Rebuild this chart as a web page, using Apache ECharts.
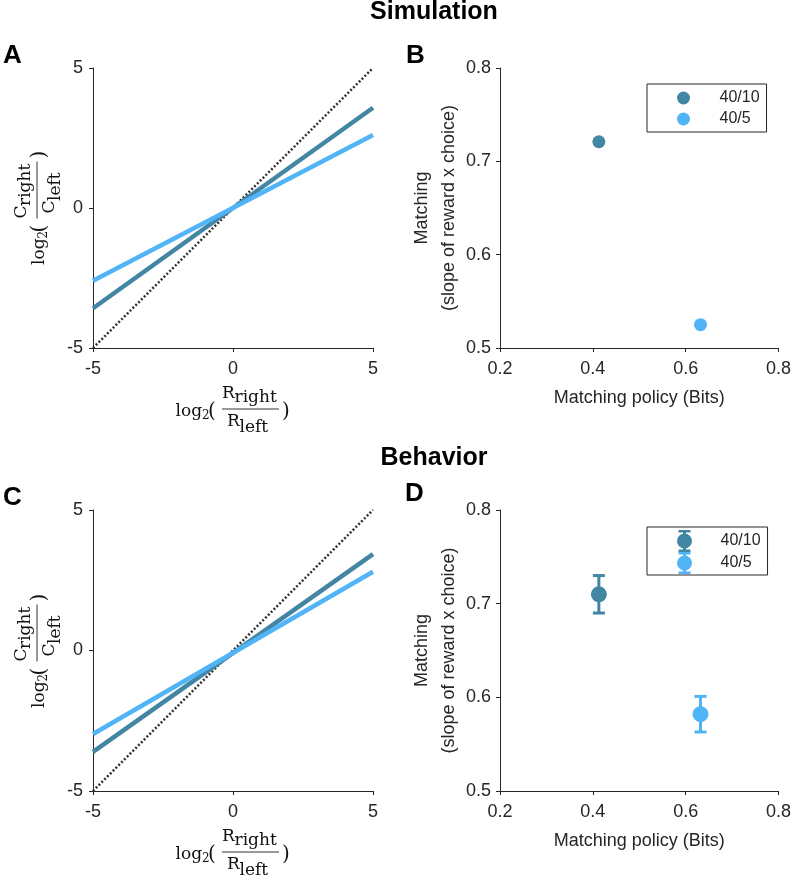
<!DOCTYPE html>
<html>
<head>
<meta charset="utf-8">
<script src="https://cdn.jsdelivr.net/npm/echarts@6/dist/echarts.min.js"></script>
<style>
html,body{margin:0;padding:0;background:#fff;}
#chart{width:794px;height:878px;}
</style>
</head>
<body>
<div id="chart"></div>
<script>
// ---------- data ----------
const xEnds = [-5, 5];                 // log2(R_right/R_left) end points
const diagY = [-5, 5];                 // identity (perfect matching)
const simDarkY = [-3.58, 3.58];        // Simulation 40/10
const simLightY = [-2.6, 2.61];        // Simulation 40/5
const behDarkY = [-3.61, 3.43];        // Behavior 40/10
const behLightY = [-2.97, 2.8];        // Behavior 40/5

const groupNames = ['40/10', '40/5'];
const simPolicy = [0.413, 0.632];      // Matching policy (Bits)
const simMatch = [0.721, 0.525];       // slope
const behPolicy = [0.413, 0.632];
const behMatch = [0.710, 0.582];
const behLow = [0.690, 0.563];
const behHigh = [0.730, 0.601];

const lineTicks = [-5, 0, 5];
const policyTicks = [0.2, 0.4, 0.6, 0.8];
const matchTicks = [0.5, 0.6, 0.7, 0.8];

// ---------- style ----------
const DARK = '#4386a4';
const LIGHT = '#51b4f6';
const AX = '#262626';
const SANS = 'Liberation Sans, Arial, sans-serif';
const SERIF = 'DejaVu Serif, serif';

const chart = echarts.init(document.getElementById('chart'), null, {renderer: 'canvas'});

function pairs(xs, ys) { return xs.map((x, i) => [x, ys[i]]); }

function axisBase(min, max, interval, margin) {
  return {
    min: min, max: max, interval: interval,
    axisLine: {show: true, onZero: false, lineStyle: {color: AX, width: 1}},
    axisTick: {show: true, inside: false, length: 4, lineStyle: {color: AX, width: 1}},
    axisLabel: {color: AX, fontSize: 18, fontFamily: SANS, margin: margin},
    splitLine: {show: false}
  };
}

function lineSeries(idx, ys, color, width, type) {
  return {
    type: 'line', xAxisIndex: idx, yAxisIndex: idx,
    data: pairs(xEnds, ys), symbol: 'none', silent: true,
    lineStyle: {color: color, width: width, type: type || 'solid', cap: 'butt'},
    itemStyle: {color: color}
  };
}

function mathLabel(letter, cx, cy, rot) {
  function t(text, x, y, size) {
    return {type: 'text', x: x, y: y,
      style: {text: text, font: size + 'px ' + SERIF, fill: '#111',
        textAlign: 'left', textVerticalAlign: 'middle', verticalAlign: 'middle'}};
  }
  return {
    type: 'group', x: cx, y: cy, rotation: rot, silent: true,
    children: [
      t('log', -75, 2.2, 17),
      t('2', -48.5, 7.2, 12),
      t('(', -42.5, 2.5, 20),
      t(letter, -28.5, -15.9, 17),
      t('right', -16, -11.9, 17),
      {type: 'line', shape: {x1: -28.5, y1: 0, x2: 28.5, y2: 0}, style: {stroke: '#333', lineWidth: 1}},
      t(letter, -23.5, 12.1, 17),
      t('left', -11, 18.1, 17),
      t(')', 31.5, 2.5, 20)
    ]
  };
}

function boldText(text, x, y, size, align) {
  return {type: 'text', x: x, y: y, silent: true,
    style: {text: text, font: 'bold ' + size + 'px ' + SANS, fill: '#000',
      textAlign: align || 'left', textVerticalAlign: 'middle', verticalAlign: 'middle'}};
}

function errorBar(color) {
  return function (params, api) {
    const x = api.value(0), lo = api.value(2), hi = api.value(3);
    const pt = api.coord([x, hi]);
    const pb = api.coord([x, lo]);
    const h = 6;
    const st = {stroke: color, lineWidth: 3};
    return {type: 'group', children: [
      {type: 'line', shape: {x1: pt[0], y1: pt[1], x2: pb[0], y2: pb[1]}, style: st},
      {type: 'line', shape: {x1: pt[0] - h, y1: pt[1], x2: pt[0] + h, y2: pt[1]}, style: st},
      {type: 'line', shape: {x1: pb[0] - h, y1: pb[1], x2: pb[0] + h, y2: pb[1]}, style: st}
    ]};
  };
}

const ebIcon = 'path://M2,0 L14,0 L14,2.5 L9.5,2.5 L9.5,6 L6.5,6 L6.5,2.5 L2,2.5 Z ' +
  'M6.5,16 L9.5,16 L9.5,19.5 L14,19.5 L14,22 L2,22 L2,19.5 L6.5,19.5 Z ' +
  'M0.5,11 A7.5,7.5 0 1,1 15.5,11 A7.5,7.5 0 1,1 0.5,11 Z';

const yName = 'Matching\n(slope of reward x choice)';
const xName = 'Matching policy (Bits)';

function scatterAxisX() {
  return Object.assign(axisBase(0.2, 0.8, 0.2, 12), {
    name: xName, nameLocation: 'middle', nameGap: 41,
    nameTextStyle: {color: AX, fontSize: 18, fontFamily: SANS}
  });
}
function scatterAxisY() {
  return Object.assign(axisBase(0.5, 0.8, 0.1, 9), {
    name: yName, nameLocation: 'middle', nameGap: 33, nameRotate: 90,
    nameTextStyle: {color: AX, fontSize: 18, fontFamily: SANS, lineHeight: 27}
  });
}

const legendCommon = {
  orient: 'vertical', left: 647, itemWidth: 62,
  borderColor: AX, borderWidth: 1, borderRadius: 0, selectedMode: false,
  textStyle: {color: AX, fontSize: 16, fontFamily: SANS, lineHeight: 16}
};

const option = {
  animation: false,
  backgroundColor: '#fff',
  grid: [
    {left: 93, top: 68, width: 280, height: 280},
    {left: 500, top: 68, width: 281, height: 280},
    {left: 93, top: 510, width: 280, height: 281},
    {left: 500, top: 510, width: 281, height: 281}
  ],
  xAxis: [
    Object.assign(axisBase(-5, 5, 5, 12), {gridIndex: 0}),
    Object.assign(scatterAxisX(), {gridIndex: 1}),
    Object.assign(axisBase(-5, 5, 5, 12), {gridIndex: 2}),
    Object.assign(scatterAxisX(), {gridIndex: 3})
  ],
  yAxis: [
    Object.assign(axisBase(-5, 5, 5, 10), {gridIndex: 0}),
    Object.assign(scatterAxisY(), {gridIndex: 1}),
    Object.assign(axisBase(-5, 5, 5, 10), {gridIndex: 2}),
    Object.assign(scatterAxisY(), {gridIndex: 3})
  ],
  legend: [
    Object.assign({}, legendCommon, {
      top: 84, itemHeight: 13, itemGap: 5, padding: [6, 7, 5, 30],
      data: groupNames.map(n => ({name: n, icon: 'circle'}))
    }),
    Object.assign({}, legendCommon, {
      top: 527, itemHeight: 22, itemGap: 0, padding: [3, 7, 1, 30],
      data: groupNames.map(n => ({name: n, icon: ebIcon}))
    })
  ],
  series: [
    lineSeries(0, diagY, '#333', 2.5, [2, 2]),
    lineSeries(0, simDarkY, DARK, 4.5),
    lineSeries(0, simLightY, LIGHT, 4.5),
    lineSeries(2, diagY, '#333', 2.5, [2, 2]),
    lineSeries(2, behDarkY, DARK, 4.5),
    lineSeries(2, behLightY, LIGHT, 4.5),
    {type: 'scatter', name: groupNames[0], xAxisIndex: 1, yAxisIndex: 1, symbolSize: 13,
      data: [[simPolicy[0], simMatch[0]]], itemStyle: {color: DARK, opacity: 1}, silent: true},
    {type: 'scatter', name: groupNames[1], xAxisIndex: 1, yAxisIndex: 1, symbolSize: 13,
      data: [[simPolicy[1], simMatch[1]]], itemStyle: {color: LIGHT, opacity: 1}, silent: true},
    {type: 'custom', xAxisIndex: 3, yAxisIndex: 3, silent: true,
      renderItem: errorBar(DARK), encode: {x: 0, y: [1, 2, 3]},
      data: [[behPolicy[0], behMatch[0], behLow[0], behHigh[0]]]},
    {type: 'custom', xAxisIndex: 3, yAxisIndex: 3, silent: true,
      renderItem: errorBar(LIGHT), encode: {x: 0, y: [1, 2, 3]},
      data: [[behPolicy[1], behMatch[1], behLow[1], behHigh[1]]]},
    {type: 'scatter', name: groupNames[0], xAxisIndex: 3, yAxisIndex: 3, symbolSize: 16,
      data: [[behPolicy[0], behMatch[0]]], itemStyle: {color: DARK, opacity: 1}, silent: true},
    {type: 'scatter', name: groupNames[1], xAxisIndex: 3, yAxisIndex: 3, symbolSize: 16,
      data: [[behPolicy[1], behMatch[1]]], itemStyle: {color: LIGHT, opacity: 1}, silent: true}
  ],
  graphic: [
    boldText('Simulation', 434, 12.5, 25, 'center'),
    boldText('Behavior', 434, 458, 25, 'center'),
    boldText('A', 3, 56, 26),
    boldText('B', 406, 56, 26),
    boldText('C', 3, 498, 26),
    boldText('D', 405, 494, 26),
    mathLabel('R', 250.5, 409, 0),
    mathLabel('C', 37, 190, Math.PI / 2),
    mathLabel('R', 250.5, 852, 0),
    mathLabel('C', 37, 633, Math.PI / 2)
  ]
};

chart.setOption(option);
</script>
</body>
</html>
